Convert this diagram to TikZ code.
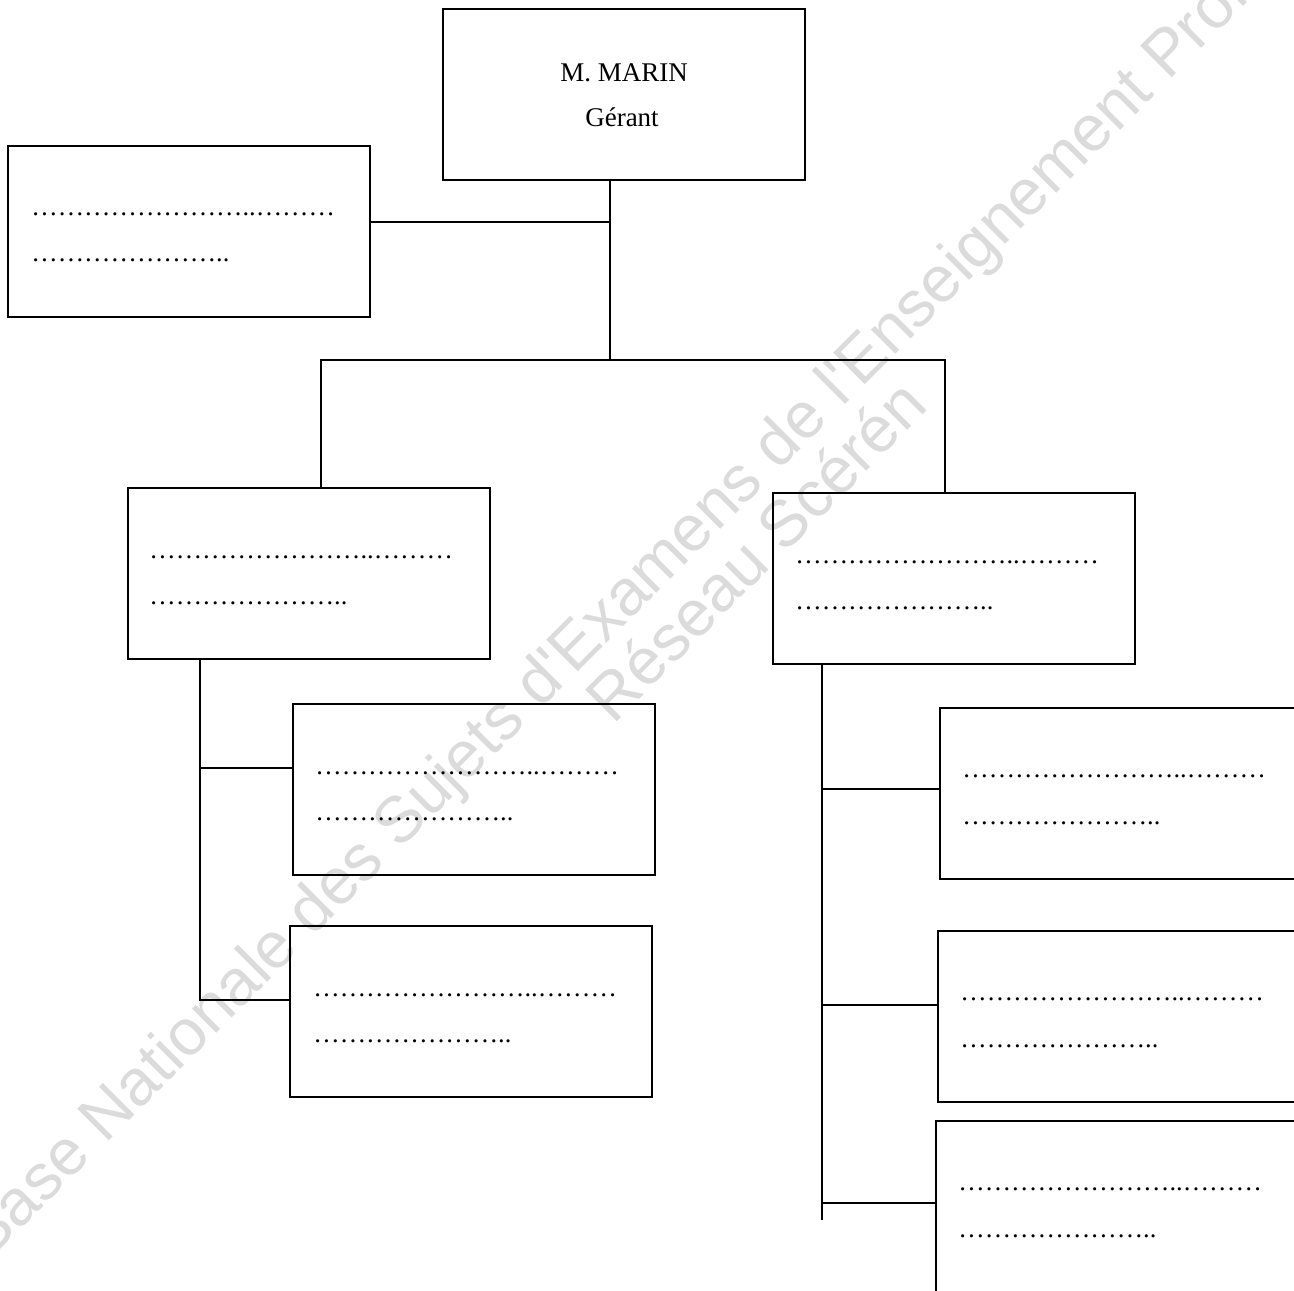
\documentclass[tikz,border=0pt]{standalone}
\usepackage{fontspec}
\setmainfont{Liberation Serif}
\newfontfamily\filigrane{Liberation Sans}
\usetikzlibrary{positioning}

\newcommand{\pointilles}[1]{\foreach \k in {1,...,#1}{…}}

\begin{document}
\begin{tikzpicture}[x=0.5pt,y=-0.5pt,
		poste/.style={draw=black, line width=1pt, inner sep=0pt, minimum width=181pt, minimum height=85.5pt},
		posteD/.style={poste, minimum width=200pt},
		ligne/.style={anchor=base west, inner sep=0pt, font=\fontsize{13.2}{16}\selectfont},
		nom/.style={anchor=base, inner sep=0pt, font=\fontsize{13.5}{16}\selectfont},
		lien/.style={black, line width=1pt},
		filig/.style={rotate=45, anchor=base west, inner sep=0pt, text=black!14, font=\filigrane\fontsize{32.5}{38}\selectfont}]
	\useasboundingbox (0,0) rectangle (1294,1290);
	\clip (0,0) rectangle (1294,1290);

	% filigrane
	\node[filig] (fil1) at (-12,1262) {Base Nationale des Sujets d'Examens de l'Enseignement Professionnel};
	\node[filig, anchor=center] (fil2) at (755,550) {Réseau Scérén};

	% boites
	\node[poste] (gerant) at (624,94) {};
	\node[poste] (adj) at (189,231) {};
	\node[poste] (respA) at (309,573) {};
	\node[poste] (respB) at (954,578) {};
	\node[poste] (empA1) at (474,789) {};
	\node[poste] (empA2) at (471,1011) {};
	\node[posteD] (empB1) at (1140,793) {};
	\node[posteD] (empB2) at (1138,1016) {};
	\node[posteD] (empB3) at (1136,1206) {};

	\node[nom] (gerant-a) at ([shift={(0,74)}]gerant.north) {M. MARIN};
	\node[nom] (gerant-b) at ([shift={(-2,119)}]gerant.north) {Gérant};

	\node[ligne] (adj-a) at ([shift={(24,71)}]adj.north west) {\pointilles{8}..\pointilles{3}};
	\node[ligne] (adj-b) at ([shift={(24,117)}]adj.north west) {\pointilles{7}..};
	\node[ligne] (respA-a) at ([shift={(22,72)}]respA.north west) {\pointilles{8}..\pointilles{3}};
	\node[ligne] (respA-b) at ([shift={(22,118)}]respA.north west) {\pointilles{7}..};
	\node[ligne] (respB-a) at ([shift={(23,72)}]respB.north west) {\pointilles{8}..\pointilles{3}};
	\node[ligne] (respB-b) at ([shift={(23,118)}]respB.north west) {\pointilles{7}..};
	\node[ligne] (empA1-a) at ([shift={(23,72)}]empA1.north west) {\pointilles{8}..\pointilles{3}};
	\node[ligne] (empA1-b) at ([shift={(23,118)}]empA1.north west) {\pointilles{7}..};
	\node[ligne] (empA2-a) at ([shift={(24,72)}]empA2.north west) {\pointilles{8}..\pointilles{3}};
	\node[ligne] (empA2-b) at ([shift={(24,118)}]empA2.north west) {\pointilles{7}..};
	\node[ligne] (empB1-a) at ([shift={(23,71)}]empB1.north west) {\pointilles{8}..\pointilles{3}};
	\node[ligne] (empB1-b) at ([shift={(23,118)}]empB1.north west) {\pointilles{7}..};
	\node[ligne] (empB2-a) at ([shift={(23,71)}]empB2.north west) {\pointilles{8}..\pointilles{3}};
	\node[ligne] (empB2-b) at ([shift={(23,118)}]empB2.north west) {\pointilles{7}..};
	\node[ligne] (empB3-a) at ([shift={(23,71)}]empB3.north west) {\pointilles{8}..\pointilles{3}};
	\node[ligne] (empB3-b) at ([shift={(23,118)}]empB3.north west) {\pointilles{7}..};

	% liaisons
	\coordinate (t1) at (610,222);
	\coordinate (t2) at (610,360);
	\coordinate (gA) at (321,360);
	\coordinate (gB) at (945,360);
	\coordinate (bA) at (200,1000);
	\coordinate (bA1) at (200,768);
	\coordinate (bB) at (822,1220);
	\coordinate (bB1) at (822,789);
	\coordinate (bB2) at (822,1005);
	\coordinate (bB3) at (822,1203);

	\draw[lien] (gerant.south -| t2) -- (t2);
	\draw[lien] (adj.east |- t1) -- (t1);
	\draw[lien] (gA |- respA.north) -- (gA) -- (gB) -- (gB |- respB.north);
	\draw[lien] (bA |- respA.south) -- (bA) -- (bA -| empA2.west);
	\draw[lien] (bA1) -- (bA1 -| empA1.west);
	\draw[lien] (bB |- respB.south) -- (bB);
	\draw[lien] (bB1) -- (bB1 -| empB1.west);
	\draw[lien] (bB2) -- (bB2 -| empB2.west);
	\draw[lien] (bB3) -- (bB3 -| empB3.west);
\end{tikzpicture}
\end{document}
